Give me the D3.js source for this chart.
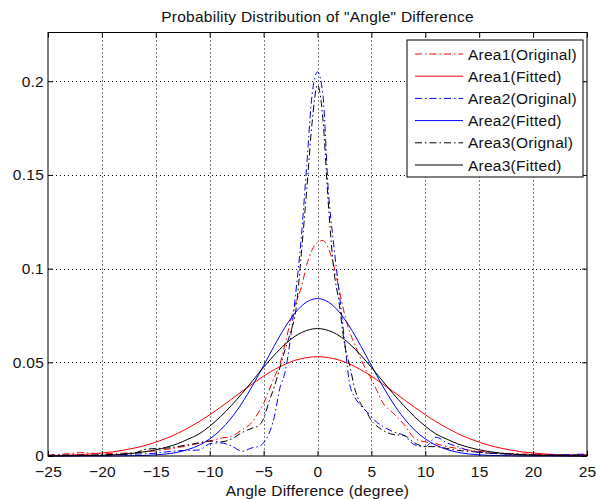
<!DOCTYPE html>
<html>
<head>
<meta charset="utf-8">
<script src="https://cdn.jsdelivr.net/npm/d3@7"></script>
<style>
  html, body { margin: 0; padding: 0; background: #fff; }
  svg { display: block; }
  text { font-family: "Liberation Sans", Arial, Helvetica, sans-serif; fill: #111; letter-spacing: 0.25px; }
</style>
</head>
<body>
<svg id="chart" width="596" height="499"></svg>
<script>
// Axis ticks
const xTicks = [-25, -20, -15, -10, -5, 0, 5, 10, 15, 20, 25];
const yTicks = [0, 0.05, 0.1, 0.15, 0.2];
const yTickLabels = ["0", "0.05", "0.1", "0.15", "0.2"];

// Sample positions of the measured (original) densities, degrees
const origX = [-25, -24, -23, -22, -21, -20, -19, -18, -17, -16, -15, -14, -13, -12, -11, -10, -9, -8, -7, -6,
  -5.5, -5, -4.5, -4, -3.5, -3, -2.5, -2, -1.5, -1, -0.5, 0, 0.5, 1, 1.5, 2, 2.5, 3, 3.5, 4, 4.5, 5, 5.5,
  6, 7, 8, 9, 10, 11, 12, 13, 14, 15, 16, 17, 18, 19, 20, 21, 22, 23, 24, 25];

const area1Original = [0.0005, 0.0008, 0.0012, 0.0018, 0.0015, 0.0012, 0.0013, 0.0015, 0.0018, 0.0022, 0.0028, 0.0035, 0.0045, 0.0055, 0.0068, 0.0080, 0.0095, 0.0105, 0.0140, 0.0185,
  0.023, 0.028, 0.035, 0.042, 0.049, 0.060, 0.072, 0.082, 0.090, 0.102, 0.110, 0.114, 0.115, 0.111, 0.102, 0.089, 0.076, 0.066, 0.059, 0.052, 0.046, 0.041, 0.035,
  0.029, 0.023, 0.017, 0.0095, 0.0075, 0.0065, 0.0050, 0.0040, 0.0032, 0.0025, 0.0020, 0.0016, 0.0013, 0.0011, 0.0010, 0.0009, 0.0008, 0.0007, 0.0006, 0.0008];

const area2Original = [0.0000, 0.0004, 0.0003, 0.0005, 0.0004, 0.0005, 0.0006, 0.0008, 0.0010, 0.0012, 0.0015, 0.0022, 0.0028, 0.0030, 0.0032, 0.0065, 0.0070, 0.0055, 0.0025, 0.0045,
  0.0050, 0.0070, 0.012, 0.021, 0.036, 0.045, 0.063, 0.088, 0.117, 0.155, 0.193, 0.205, 0.193, 0.142, 0.113, 0.088, 0.062, 0.038, 0.031, 0.027, 0.024, 0.021, 0.018,
  0.016, 0.013, 0.011, 0.006, 0.005, 0.010, 0.007, 0.005, 0.003, 0.002, 0.0015, 0.0012, 0.0009, 0.0007, 0.0006, 0.0005, 0.0006, 0.0007, 0.0009, 0.0010];

const area3Original = [0.0003, 0.0005, 0.0004, 0.0005, 0.0004, 0.0006, 0.0008, 0.0010, 0.0015, 0.0035, 0.0040, 0.0042, 0.0050, 0.0060, 0.0070, 0.0080, 0.0075, 0.0090, 0.0125, 0.0150,
  0.016, 0.020, 0.029, 0.037, 0.047, 0.057, 0.066, 0.078, 0.108, 0.142, 0.178, 0.198, 0.180, 0.135, 0.100, 0.082, 0.060, 0.048, 0.035, 0.028, 0.024, 0.019, 0.016,
  0.014, 0.0115, 0.011, 0.007, 0.005, 0.005, 0.004, 0.003, 0.0025, 0.002, 0.0015, 0.0012, 0.0010, 0.0008, 0.0006, 0.0005, 0.0005, 0.0004, 0.0006, 0.0004];

// Sample positions of the fitted densities, degrees
const fitX = [-25, -24, -23, -22, -21, -20, -19, -18, -17, -16, -15, -14, -13, -12, -11, -10, -9, -8, -7, -6, -5, -4, -3, -2, -1,
  0, 1, 2, 3, 4, 5, 6, 7, 8, 9, 10, 11, 12, 13, 14, 15, 16, 17, 18, 19, 20, 21, 22, 23, 24, 25];

const area1Fitted = [0.0002, 0.0003, 0.0005, 0.0008, 0.0011, 0.0016, 0.0022, 0.0031, 0.0042, 0.0056, 0.0074, 0.0095, 0.0120, 0.0150, 0.0183, 0.0220, 0.0260, 0.0302, 0.0345, 0.0386, 0.0426, 0.0461, 0.0490, 0.0512, 0.0525,
  0.0530, 0.0525, 0.0512, 0.0490, 0.0461, 0.0426, 0.0386, 0.0345, 0.0302, 0.0260, 0.0220, 0.0183, 0.0150, 0.0120, 0.0095, 0.0074, 0.0056, 0.0042, 0.0031, 0.0022, 0.0016, 0.0011, 0.0008, 0.0005, 0.0003, 0.0002];

const area2Fitted = [0.0000, 0.0000, 0.0000, 0.0000, 0.0000, 0.0000, 0.0000, 0.0001, 0.0002, 0.0003, 0.0006, 0.0011, 0.0020, 0.0035, 0.0057, 0.0091, 0.0139, 0.0203, 0.0283, 0.0378, 0.0483, 0.0589, 0.0688, 0.0769, 0.0822,
  0.0840, 0.0822, 0.0769, 0.0688, 0.0589, 0.0483, 0.0378, 0.0283, 0.0203, 0.0139, 0.0091, 0.0057, 0.0035, 0.0020, 0.0011, 0.0006, 0.0003, 0.0002, 0.0001, 0.0000, 0.0000, 0.0000, 0.0000, 0.0000, 0.0000, 0.0000];

const area3Fitted = [0.0000, 0.0000, 0.0001, 0.0002, 0.0003, 0.0004, 0.0006, 0.0010, 0.0015, 0.0023, 0.0033, 0.0047, 0.0065, 0.0090, 0.0117, 0.0159, 0.0210, 0.0269, 0.0334, 0.0403, 0.0473, 0.0539, 0.0597, 0.0642, 0.0670,
  0.0680, 0.0670, 0.0642, 0.0597, 0.0539, 0.0473, 0.0403, 0.0334, 0.0269, 0.0210, 0.0159, 0.0117, 0.0090, 0.0065, 0.0047, 0.0033, 0.0023, 0.0015, 0.0010, 0.0006, 0.0004, 0.0003, 0.0002, 0.0001, 0.0000, 0.0000];

const seriesNames = ["Area1(Original)", "Area1(Fitted)", "Area2(Original)", "Area2(Fitted)", "Area3(Orignal)", "Area3(Fitted)"];
const seriesColors = ["#ff0000", "#ff0000", "#0000ff", "#0000ff", "#000000", "#000000"];
const seriesDashed = [true, false, true, false, true, false];

const series = [
  { xs: origX, ys: area1Original },
  { xs: fitX, ys: area1Fitted },
  { xs: origX, ys: area2Original },
  { xs: fitX, ys: area2Fitted },
  { xs: origX, ys: area3Original },
  { xs: fitX, ys: area3Fitted }
].map((s, i) => ({ ...s, name: seriesNames[i], color: seriesColors[i], dashed: seriesDashed[i] }));

const svg = d3.select("#chart");
const plotLeft = 48, plotRight = 587, plotTop = 32.5, plotBottom = 456;
const fontSize = 15.5;
const dashDot = "7,3,1.5,3";

const x = d3.scaleLinear().domain([-25, 25]).range([plotLeft, plotRight]);
const y = d3.scaleLinear().domain([0, 0.226]).range([plotBottom, plotTop]);

svg.append("rect").attr("width", 596).attr("height", 499).attr("fill", "#fff");

// dotted grid
const grid = svg.append("g").attr("stroke", "#000").attr("stroke-width", 1).attr("stroke-dasharray", "1,3");
grid.selectAll(".gx").data(xTicks.slice(1, -1)).join("line").attr("class", "gx")
  .attr("x1", d => Math.round(x(d)) + 0.5).attr("x2", d => Math.round(x(d)) + 0.5)
  .attr("y1", plotTop).attr("y2", plotBottom);
grid.selectAll(".gy").data(yTicks.slice(1)).join("line").attr("class", "gy")
  .attr("y1", d => Math.round(y(d)) + 0.5).attr("y2", d => Math.round(y(d)) + 0.5)
  .attr("x1", plotLeft).attr("x2", plotRight);

// curves
svg.append("defs").append("clipPath").attr("id", "plotClip")
  .append("rect").attr("x", plotLeft).attr("y", plotTop - 1).attr("width", plotRight - plotLeft).attr("height", plotBottom - plotTop + 2);

const line = d3.line().curve(d3.curveMonotoneX);
svg.append("g").attr("clip-path", "url(#plotClip)")
  .selectAll("path").data(series).join("path")
  .attr("d", s => line(s.xs.map((v, i) => [x(v), y(s.ys[i])])))
  .attr("fill", "none")
  .attr("stroke", s => s.color)
  .attr("stroke-width", 1)
  .attr("stroke-dasharray", s => s.dashed ? dashDot : null);

// axes with inward ticks on all four sides
const tickLen = 5;
const gx = svg.append("g").attr("transform", `translate(0,${plotBottom})`)
  .call(d3.axisBottom(x).tickValues(xTicks).tickFormat(d3.format("d")).tickSizeInner(-tickLen).tickSizeOuter(0).tickPadding(10));
const gy = svg.append("g").attr("transform", `translate(${plotLeft},0)`)
  .call(d3.axisLeft(y).tickValues(yTicks).tickFormat((d, i) => yTickLabels[i]).tickSizeInner(-tickLen).tickSizeOuter(0).tickPadding(4));
const gt = svg.append("g").attr("transform", `translate(0,${plotTop})`)
  .call(d3.axisTop(x).tickValues(xTicks).tickFormat("").tickSizeInner(-tickLen).tickSizeOuter(0));
const gr = svg.append("g").attr("transform", `translate(${plotRight},0)`)
  .call(d3.axisRight(y).tickValues(yTicks).tickFormat("").tickSizeInner(-tickLen).tickSizeOuter(0));

[gx, gy, gt, gr].forEach(g => {
  g.select(".domain").remove();
  g.selectAll("line").attr("stroke", "#000");
  g.selectAll("text").attr("font-size", fontSize).attr("fill", "#111")
    .style("font-family", '"Liberation Sans", Arial, sans-serif');
});

svg.append("rect").attr("x", plotLeft).attr("y", plotTop).attr("width", plotRight - plotLeft).attr("height", plotBottom - plotTop)
  .attr("fill", "none").attr("stroke", "#000").attr("stroke-width", 1);

// title and axis label
svg.append("text").attr("x", (plotLeft + plotRight) / 2).attr("y", 22).attr("text-anchor", "middle")
  .attr("font-size", fontSize).text('Probability Distribution of "Angle" Difference');
svg.append("text").attr("x", (plotLeft + plotRight) / 2).attr("y", 496).attr("text-anchor", "middle")
  .attr("font-size", fontSize).text("Angle Difference (degree)");

// legend
const lg = svg.append("g");
const lgX = 407, lgY = 40, lgW = 176, lgH = 137, rowH = 22.2, firstRow = 54;
lg.append("rect").attr("x", lgX).attr("y", lgY).attr("width", lgW).attr("height", lgH)
  .attr("fill", "#fff").attr("stroke", "#000").attr("stroke-width", 1);
const rows = lg.selectAll("g.row").data(series).join("g").attr("class", "row")
  .attr("transform", (d, i) => `translate(0,${firstRow + i * rowH})`);
rows.append("line").attr("x1", 415).attr("x2", 463).attr("y1", 0).attr("y2", 0)
  .attr("stroke", d => d.color).attr("stroke-width", 1)
  .attr("stroke-dasharray", d => d.dashed ? dashDot : null);
rows.append("text").attr("x", 468).attr("y", 0).attr("dy", "0.36em")
  .attr("font-size", fontSize).text(d => d.name);
</script>
</body>
</html>
